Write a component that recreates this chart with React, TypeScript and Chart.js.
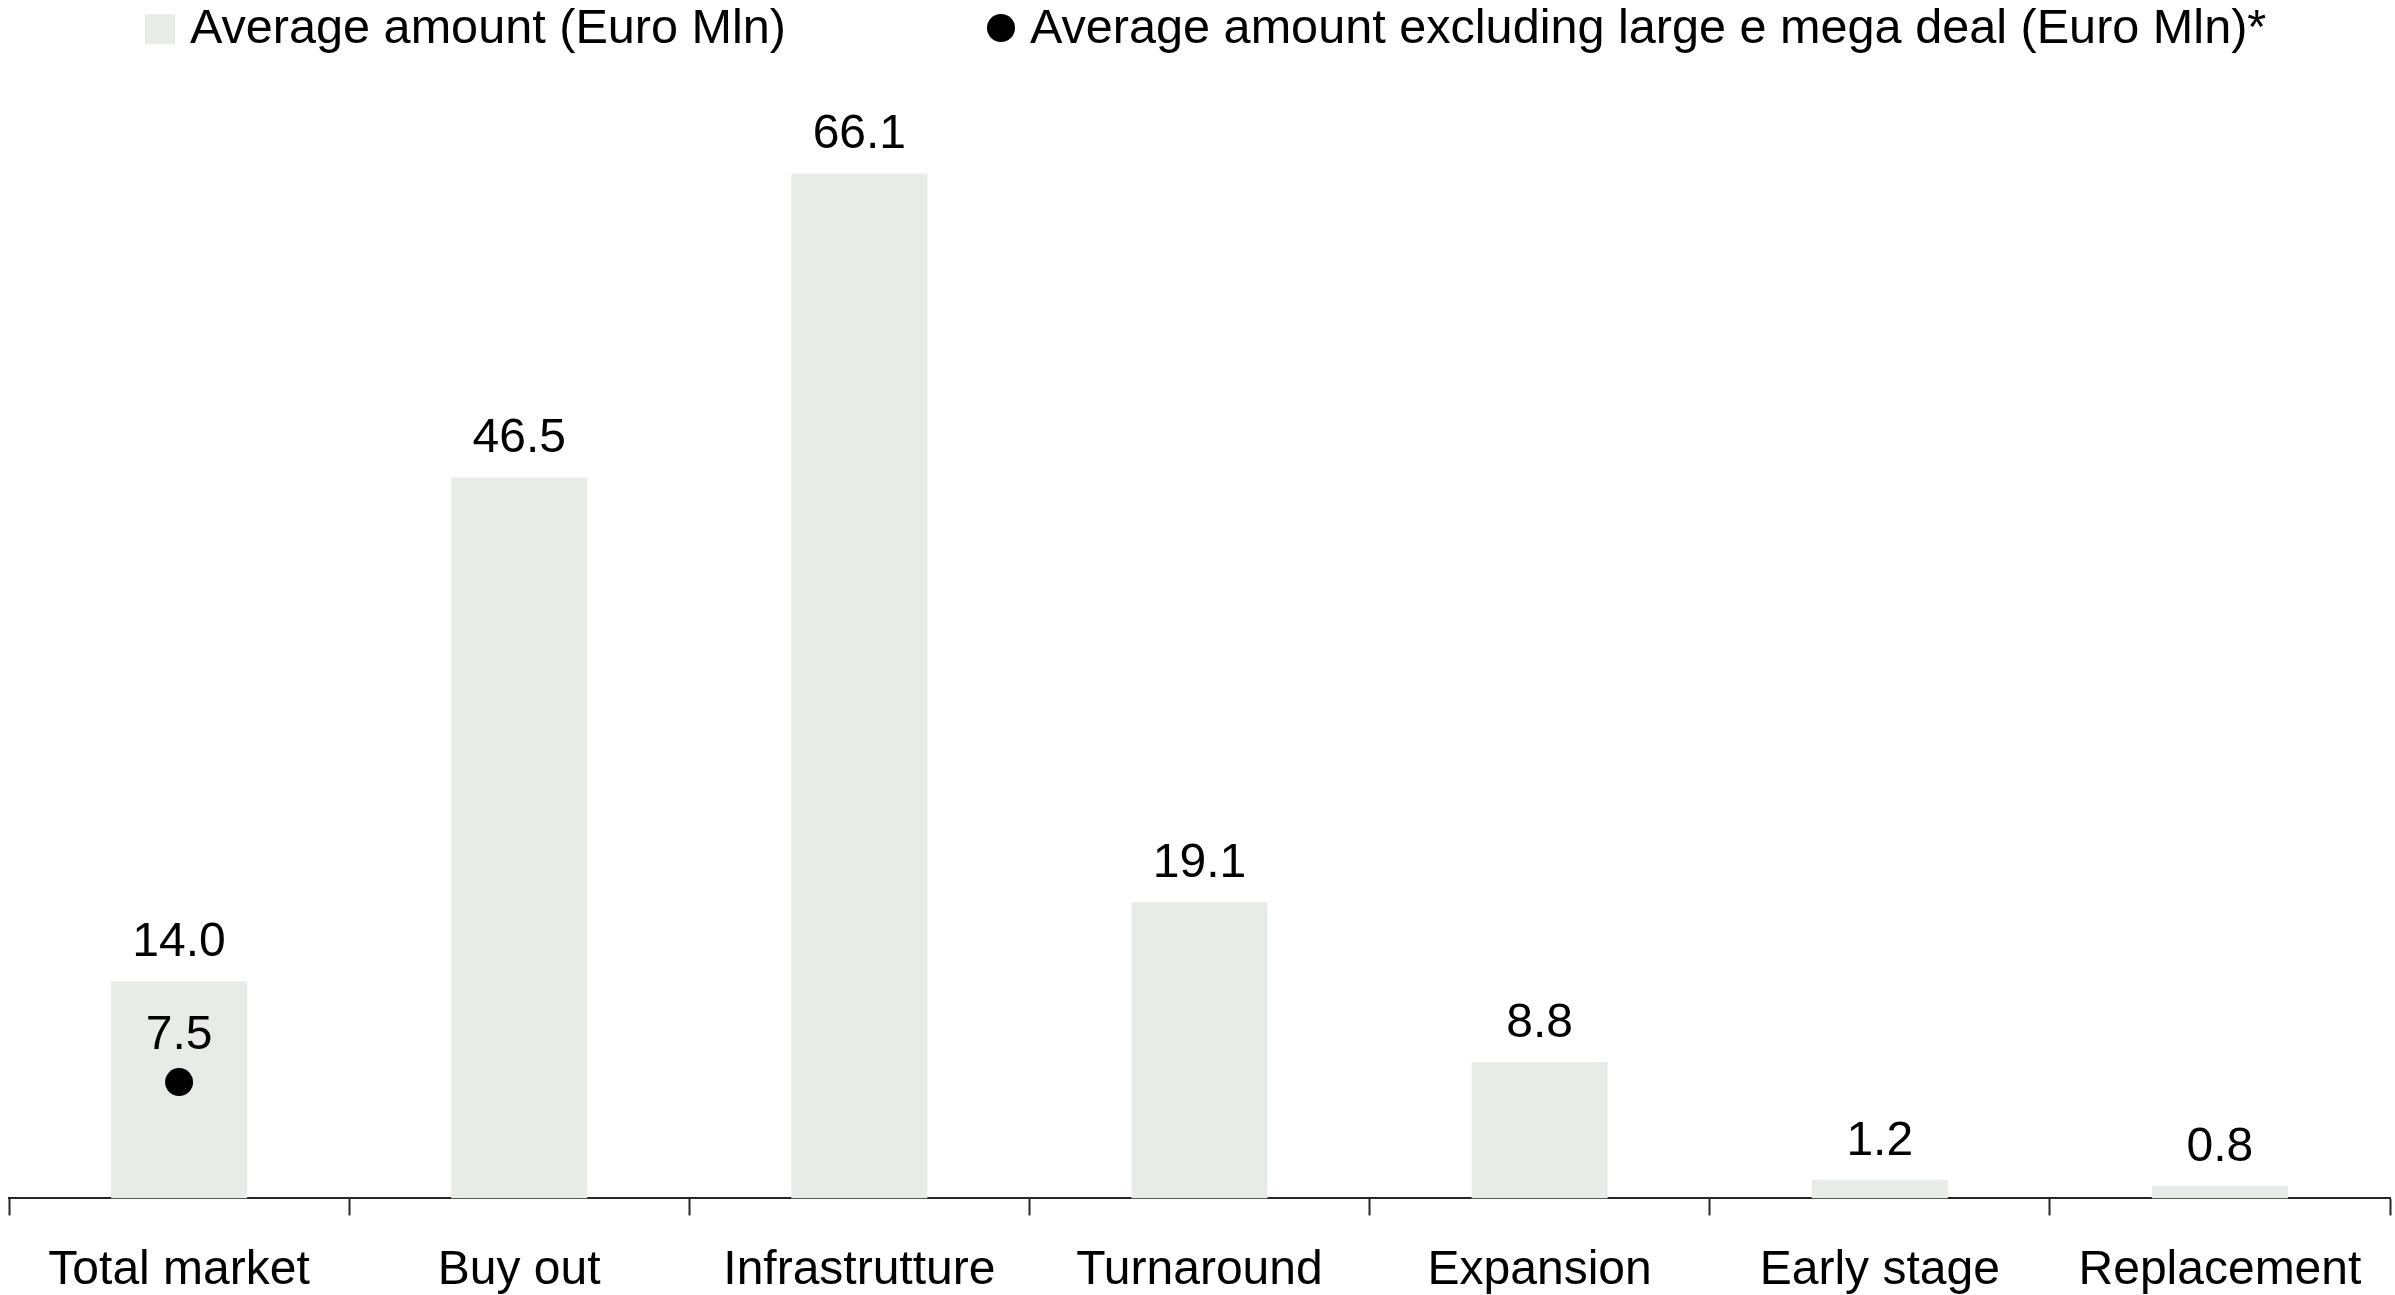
import React, { useEffect, useRef } from "react";
import { Chart, registerables } from "chart.js";

Chart.register(...registerables);

const categories = [
  "Total market",
  "Buy out",
  "Infrastrutture",
  "Turnaround",
  "Expansion",
  "Early stage",
  "Replacement",
];
const averageAmount = [14.0, 46.5, 66.1, 19.1, 8.8, 1.2, 0.8];
const averageExclLarge = [7.5, null, null, null, null, null, null];
const seriesNames = [
  "Average amount (Euro Mln)",
  "Average amount excluding large e mega deal (Euro Mln)*",
];

const BAR_COLOR = "#e7ece9";
const DOT_COLOR = "#000000";
const TEXT_COLOR = "#000000";
const AXIS_COLOR = "#262626";
const FONT_FAMILY = "'Liberation Sans', Arial, sans-serif";
const FONT_SIZE = 48;
const LEGEND_FONT_SIZE = 48.6;

const valueLabelsPlugin = {
  id: "valueLabels",
  afterDatasetsDraw(chart: any) {
    const ctx = chart.ctx;
    ctx.save();
    ctx.font = `${FONT_SIZE}px ${FONT_FAMILY}`;
    ctx.fillStyle = TEXT_COLOR;
    ctx.textAlign = "center";
    ctx.textBaseline = "alphabetic";
    chart.data.datasets.forEach((ds: any, di: number) => {
      const meta = chart.getDatasetMeta(di);
      const gap = ds.type === "line" ? 33 : 25;
      meta.data.forEach((el: any, i: number) => {
        const v = ds.data[i];
        if (v === null || v === undefined) return;
        ctx.fillText(Number(v).toFixed(1), el.x, el.y - gap);
      });
    });
    ctx.restore();
  },
};

const legendPlugin = {
  id: "customLegend",
  afterDraw(chart: any) {
    const ctx = chart.ctx;
    ctx.save();
    ctx.font = `${LEGEND_FONT_SIZE}px ${FONT_FAMILY}`;
    ctx.textAlign = "left";
    ctx.textBaseline = "alphabetic";
    // item 1: square
    ctx.fillStyle = BAR_COLOR;
    ctx.fillRect(145, 14, 30, 30);
    ctx.fillStyle = TEXT_COLOR;
    ctx.fillText(seriesNames[0], 190, 43);
    // item 2: circle
    ctx.fillStyle = DOT_COLOR;
    ctx.beginPath();
    ctx.arc(1001, 28, 14, 0, Math.PI * 2);
    ctx.fill();
    ctx.fillStyle = TEXT_COLOR;
    ctx.fillText(seriesNames[1], 1030, 43);
    ctx.restore();
  },
};

export default function App() {
  const canvasRef = useRef<HTMLCanvasElement | null>(null);

  useEffect(() => {
    document.body.style.margin = "0";
    document.body.style.overflow = "hidden";
    const canvas = canvasRef.current;
    if (!canvas) return;
    const chart = new Chart(canvas, {
      type: "bar",
      data: {
        labels: categories,
        datasets: [
          {
            type: "line",
            label: seriesNames[1],
            data: averageExclLarge,
            showLine: false,
            pointRadius: 14,
            pointHoverRadius: 14,
            pointBackgroundColor: DOT_COLOR,
            pointBorderWidth: 0,
            borderColor: DOT_COLOR,
            backgroundColor: DOT_COLOR,
            order: 0,
          } as any,
          {
            type: "bar",
            label: seriesNames[0],
            data: averageAmount,
            backgroundColor: BAR_COLOR,
            borderWidth: 0,
            categoryPercentage: 1,
            barPercentage: 0.4,
            order: 1,
          },
        ],
      },
      options: {
        responsive: false,
        animation: false,
        devicePixelRatio: 1,
        layout: { autoPadding: false, padding: { left: 9, right: 5, top: 113, bottom: -32 } },
        plugins: {
          legend: { display: false },
          tooltip: { enabled: false },
        },
        scales: {
          x: {
            offset: true,
            grid: {
              offset: true,
              display: true,
              drawOnChartArea: false,
              drawTicks: true,
              tickLength: 17,
              tickColor: AXIS_COLOR,
              tickWidth: 2,
              color: AXIS_COLOR,
            },
            border: { display: true, color: AXIS_COLOR, width: 2 },
            ticks: {
              color: TEXT_COLOR,
              padding: 27,
              maxRotation: 0,
              autoSkip: false,
              font: { family: FONT_FAMILY, size: FONT_SIZE },
            },
          },
          y: {
            display: false,
            min: 0,
            max: 70,
          },
        },
      },
      plugins: [valueLabelsPlugin, legendPlugin],
    });
    return () => chart.destroy();
  }, []);

  return (
    <div style={{ width: 2395, height: 1295, overflow: "hidden" }}>
      <canvas ref={canvasRef} width={2395} height={1295} />
    </div>
  );
}
